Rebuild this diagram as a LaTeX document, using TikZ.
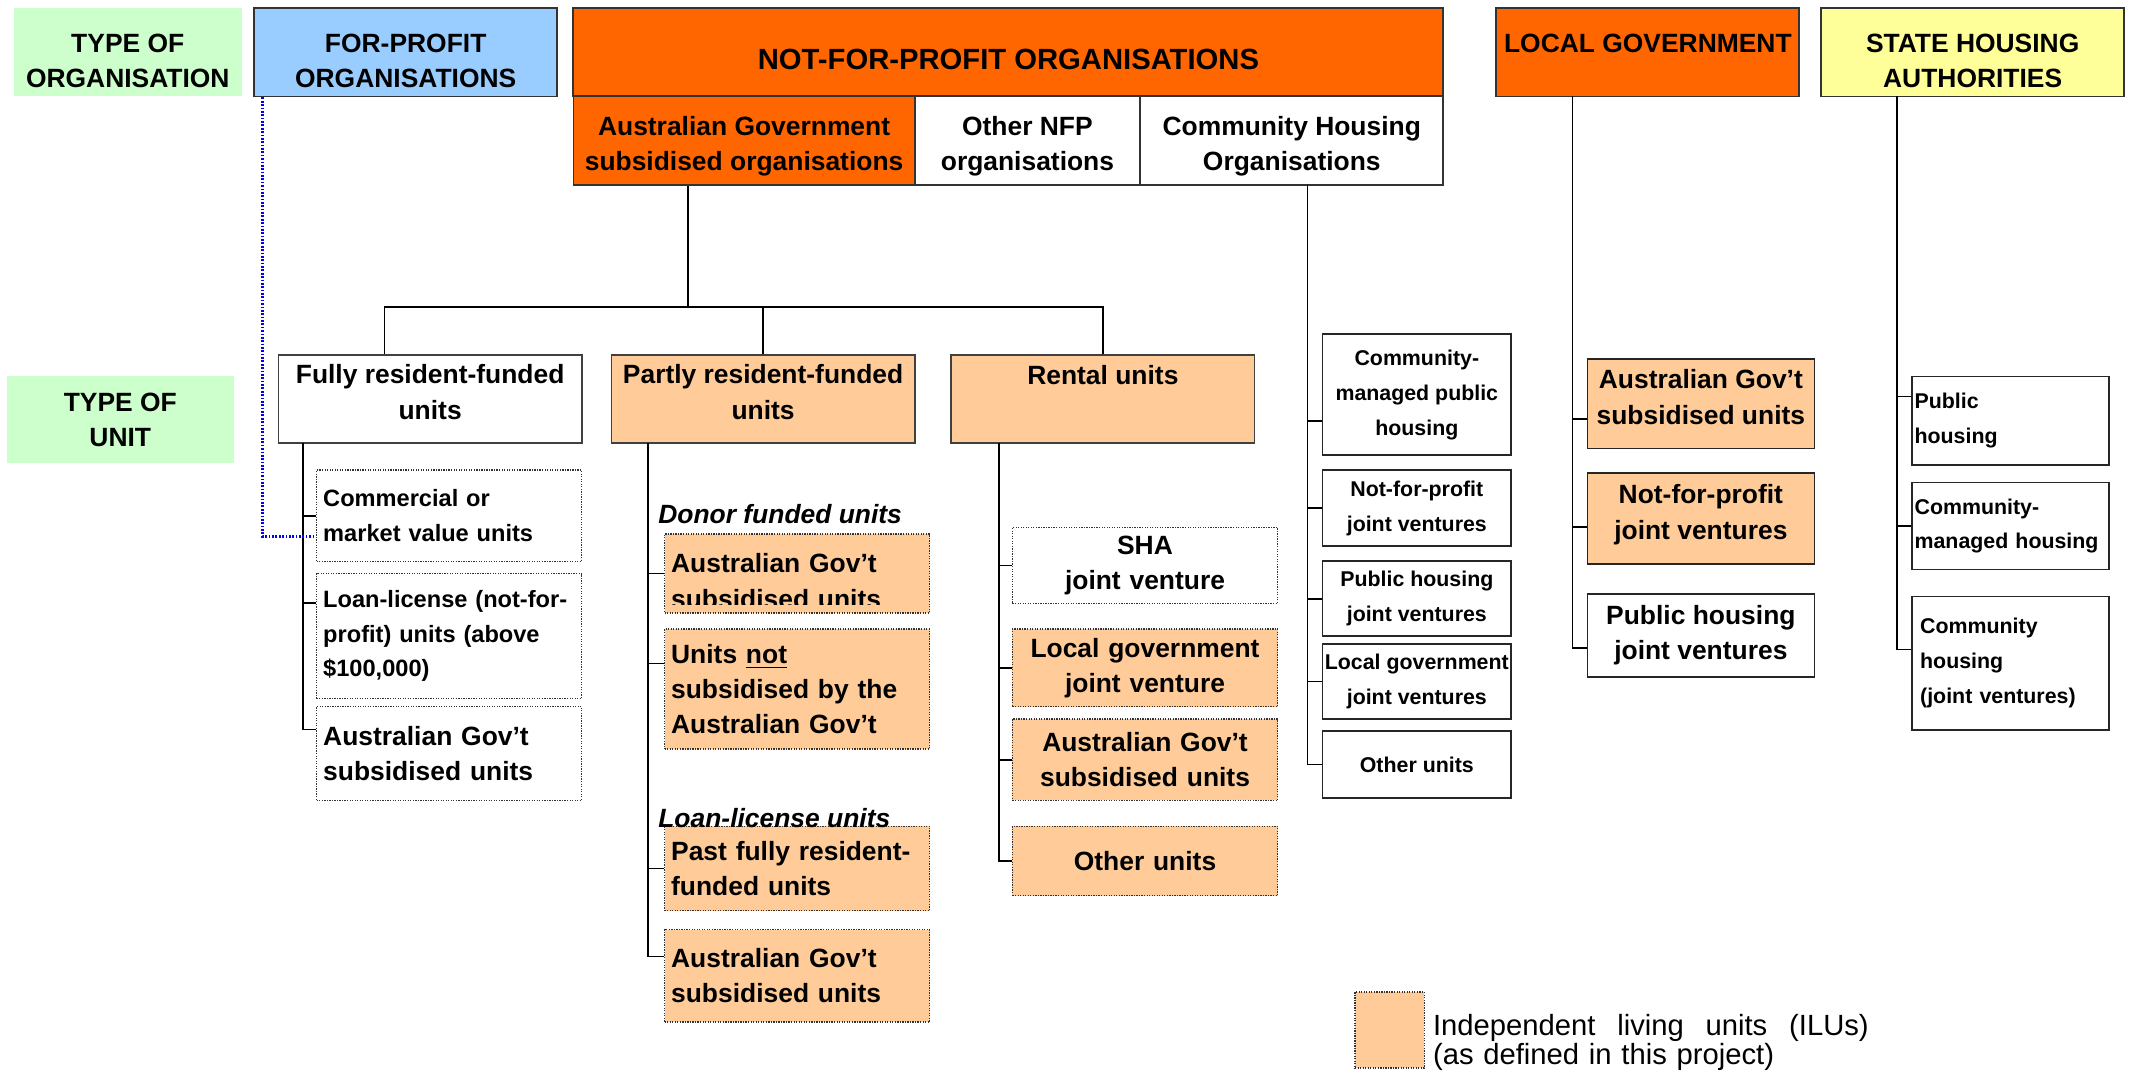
\documentclass[tikz,border=0pt]{standalone}
\usepackage{fontspec}
\setmainfont{Liberation Sans}
\definecolor{nfporange}{HTML}{FF6600}
\definecolor{ilupeach}{HTML}{FFCC99}
\definecolor{fpblue}{HTML}{99CCFF}
\definecolor{shayellow}{HTML}{FFFF99}
\definecolor{taggreen}{HTML}{CCFFCC}
\begin{document}
\begin{tikzpicture}[x=0.017cm,y=-0.017cm,
    font=\fontsize{9.4}{12.6}\selectfont\bfseries,
    link/.style={draw=black,line width=0.6pt},
    fplink/.style={draw=blue,line width=0.9pt,dash pattern=on 0.6pt off 0.6pt},
    dotline/.style={draw=black!80,line width=0.55pt,dash pattern=on 0.45pt off 0.45pt},
    tag/.style={fill=taggreen,inner sep=0pt,align=center},
    org/.style={draw=black!80,line width=0.7pt,inner sep=0pt,align=center,minimum height=1.105cm},
    unitbox/.style={draw=black!75,line width=0.6pt,inner sep=0pt,align=center,minimum width=3.791cm,minimum height=1.105cm},
    sub/.style={dotline,inner xsep=0.0825cm,inner ysep=0pt,text width=3.15cm,align=left},
    subsmall/.style={font=\fontsize{8.4}{12.4}\selectfont\bfseries},
    lbl/.style={inner sep=0pt,font=\fontsize{9.4}{12.6}\selectfont\bfseries\itshape},
    jv/.style={draw=black!85,line width=0.6pt,inner sep=0pt,align=center,minimum width=2.363cm,font=\fontsize{7.6}{12.4}\selectfont\bfseries},
    lgbox/.style={draw=black!85,line width=0.6pt,inner sep=0pt,align=center,minimum width=2.839cm},
    shabox/.style={draw=black!85,line width=0.6pt,inner xsep=0.03cm,inner ysep=0pt,text width=2.405cm,align=left,minimum width=2.465cm,font=\fontsize{7.6}{12.4}\selectfont\bfseries},
    ilu/.style={fill=ilupeach}]

  \useasboundingbox (0,0) rectangle (1568,792);

  % organisations
  \node[tag,minimum width=2.856cm,minimum height=1.105cm] (torg) at (94,38.5) {\mbox{}\\TYPE OF\\ORGANISATION};
  \node[org,fill=fpblue,minimum width=3.791cm] (fp) at (298.5,38.5) {\mbox{}\\FOR-PROFIT\\ORGANISATIONS};
  \node[org,fill=nfporange,minimum width=10.88cm,font=\fontsize{10.4}{12.6}\selectfont\bfseries] (nfp) at (742,38.5) {\mbox{}\\[-0.5pt]NOT-FOR-PROFIT ORGANISATIONS};
  \node[org,fill=nfporange,minimum width=4.267cm] (agso) at (547.5,103.5) {\mbox{}\\[-2pt]Australian Government\\subsidised organisations};
  \node[org,minimum width=2.822cm] (onfp) at (756,103.5) {\mbox{}\\[-2pt]Other NFP\\organisations};
  \node[org,minimum width=3.791cm] (cho) at (950.5,103.5) {\mbox{}\\[-2pt]Community Housing\\Organisations};
  \node[org,fill=nfporange,minimum width=3.791cm] (lg) at (1212.5,38.5) {LOCAL GOVERNMENT\\[-6.3pt]\mbox{}};
  \node[org,fill=shayellow,minimum width=3.791cm] (sha) at (1451.5,38.5) {\mbox{}\\STATE HOUSING\\AUTHORITIES};
  \node[tag,minimum width=2.839cm,minimum height=1.088cm] (tunit) at (88.5,309) {TYPE OF\\UNIT};

  % units
  \node[unitbox] (fully) at (316.5,293.5) {Fully resident-funded\\units\\[-7.8pt]\mbox{}};
  \node[unitbox,ilu] (partly) at (561.5,293.5) {Partly resident-funded\\units\\[-7.8pt]\mbox{}};
  \node[unitbox,ilu] (rental) at (811.5,293.5) {Rental units\\[4.3pt]\mbox{}};

  \coordinate (bar) at (506,226);
  \draw[link] (agso.south -| bar) -- (bar);
  \draw[link] ([xshift=-0.57cm]fully.north) |- (bar) -| (rental.north);
  \draw[link] (partly.north) -- (partly.north |- bar);

  % fully resident-funded
  \node[sub,subsmall,minimum height=1.139cm] (c1) at (330.5,379.5) {Commercial or\\market value units};
  \node[sub,subsmall,minimum height=1.564cm] (c2) at (330.5,468) {Loan-license (not-for-\\profit) units (above\\\$100,000)};
  \node[sub,minimum height=1.173cm] (c3) at (330.5,554.5) {Australian Gov’t\\subsidised units};

  \coordinate (sp1) at (223,326);
  \draw[link] (sp1) |- (c1.west);
  \draw[link] (sp1) |- ([yshift=0.41cm]c2.west);
  \draw[link] (sp1) |- ([yshift=0.3cm]c3.west);
  \draw[fplink] ([xshift=0.119cm]fp.south west) |- ([yshift=-0.26cm]c1.west);

  % partly resident-funded
  \node[lbl,anchor=west] (donor) at (484,378) {Donor funded units};
  \node[sub,ilu,minimum height=0.986cm] (p1) at (586.5,422) {};
  \begin{scope}
    \clip (p1.north west) rectangle ([yshift=0.12cm]p1.south east);
    \node[sub,draw=none,anchor=north west] (p1t) at ([yshift=-0.245cm]p1.north west) {Australian Gov’t\\subsidised units};
  \end{scope}
  \node[sub,ilu,minimum height=1.496cm] (p2) at (586.5,507) {Units \underline{not}\\subsidised by the\\Australian Gov’t};
  \node[sub,ilu,minimum height=1.054cm] (p3) at (586.5,639) {Past fully resident-\\funded units};
  \node[lbl,anchor=base west] (loan) at (484,609) {Loan-license units};
  \node[sub,ilu,minimum height=1.156cm] (p4) at (586.5,718) {Australian Gov’t\\subsidised units};

  \coordinate (sp2) at (477,326);
  \draw[link] (sp2) |- (p1.west);
  \draw[link] (sp2) |- ([yshift=0.32cm]p2.west);
  \draw[link] (sp2) |- (p3.west);
  \draw[link] (sp2) |- ([yshift=0.24cm]p4.west);

  % rental
  \begin{scope}[every node/.style={sub,align=center}]
    \node[minimum height=0.952cm] (r1) at (842.5,416) {SHA\\joint venture};
    \node[ilu,minimum height=0.969cm] (r2) at (842.5,491.5) {Local government\\joint venture};
    \node[ilu,minimum height=1.02cm] (r3) at (842.5,559) {Australian Gov’t\\subsidised units};
    \node[ilu,minimum height=0.867cm] (r4) at (842.5,633.5) {Other units};
  \end{scope}

  \coordinate (sp3) at (735,326);
  \draw[link] (sp3) |- (r1.west);
  \draw[link] (sp3) |- (r2.west);
  \draw[link] (sp3) |- (r3.west);
  \draw[link] (sp3) |- (r4.west);

  % community housing
  \node[jv,minimum height=1.513cm] (h1) at (1042.5,290.5) {Community-\\managed public\\housing};
  \node[jv,minimum height=0.952cm] (h2) at (1042.5,374) {Not-for-profit\\joint ventures};
  \node[jv,minimum height=0.935cm] (h3) at (1042.5,440.5) {Public housing\\joint ventures};
  \node[jv,minimum height=0.935cm] (h4) at (1042.5,501.5) {Local government\\joint ventures};
  \node[jv,minimum height=0.833cm] (h5) at (1042.5,562.5) {Other units};

  \coordinate (sp4) at (962,136);
  \draw[link] (sp4) |- ([yshift=-0.33cm]h1.west);
  \draw[link] (sp4) |- (h2.west);
  \draw[link] (sp4) |- (h3.west);
  \draw[link] (sp4) |- (h4.west);
  \draw[link] (sp4) |- (h5.west);

  % local government
  \node[lgbox,ilu,minimum height=1.122cm] (g1) at (1251.5,297) {Australian Gov’t\\subsidised units\\[-7.8pt]\mbox{}};
  \node[lgbox,ilu,minimum height=1.139cm] (g2) at (1251.5,381.5) {Not-for-profit\\joint ventures\\[-7.8pt]\mbox{}};
  \node[lgbox,minimum height=1.037cm] (g3) at (1251.5,467.5) {Public housing\\joint ventures};

  \coordinate (sp5) at (1157,71);
  \draw[link] (sp5) |- ([yshift=-0.19cm]g1.west);
  \draw[link] (sp5) |- ([yshift=-0.11cm]g2.west);
  \draw[link] (sp5) |- ([yshift=-0.16cm]g3.west);

  % state housing authorities
  \node[shabox,minimum height=1.105cm] (s1) at (1479.5,309.5) {Public\\housing};
  \node[shabox,minimum height=1.088cm] (s2) at (1479.5,387) {Community-\\managed housing};
  \node[shabox,minimum height=1.666cm,inner xsep=0.1cm,text width=2.265cm] (s3) at (1479.5,488) {Community\\housing\\(joint ventures)};

  \coordinate (sp6) at (1396,71);
  \draw[link] (sp6) |- ([yshift=0.3cm]s1.west);
  \draw[link] (sp6) |- (s2.west);
  \draw[link] (sp6) |- ([yshift=0.17cm]s3.west);

  % key
  \node[dotline,ilu,inner sep=0pt,minimum width=0.867cm,minimum height=0.952cm] (key) at (1022.5,758) {};
  \node[anchor=west,inner sep=0pt,text width=5.45cm,align=left,font=\fontsize{10.4}{10.6}\selectfont] (keytxt) at (1054,767) {Independent\hfill living\hfill units\hfill (ILUs)\\(as defined in this project)};

\end{tikzpicture}
\end{document}
